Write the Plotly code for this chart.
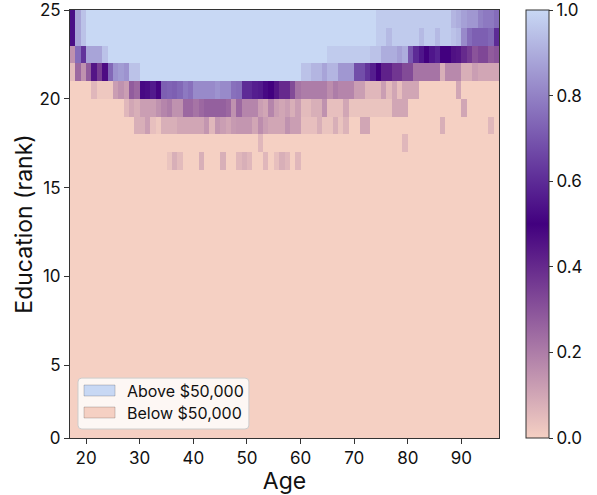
import plotly.graph_objects as go

# ---------------- data ----------------
ages = list(range(17, 97))            # age columns (each cell spans age .. age+1)
education_ranks = list(range(0, 25))  # education rows (each cell spans rank .. rank+1)

# share of people above $50,000 for each age, per education rank
edu_24 = [
    0.53, 0.88, 0.95,
    1, 1, 1, 1, 1, 1, 1, 1, 1, 1,
    1, 1, 1, 1, 1, 1, 1, 1, 1, 1,
    1, 1, 1, 1, 1, 1, 1, 1, 1, 1,
    1, 1, 1, 1, 1, 1, 1, 1, 1, 1,
    1, 1, 1, 1, 1, 1, 1, 1, 1, 1,
    1, 1, 1, 1, 0.97, 0.97, 0.97, 0.97, 0.97, 0.97,
    0.97, 0.97, 0.97, 0.97, 0.97, 0.97, 0.97, 0.97, 0.92, 0.90,
    0.87, 0.85, 0.85, 0.80, 0.78, 0.78, 0.75,
]
edu_23 = [
    0.53, 0.88, 0.95,
    1, 1, 1, 1, 1, 1, 1, 1, 1, 1,
    1, 1, 1, 1, 1, 1, 1, 1, 1, 1,
    1, 1, 1, 1, 1, 1, 1, 1, 1, 1,
    1, 1, 1, 1, 1, 1, 1, 1, 1, 1,
    1, 1, 1, 1, 1, 1, 1, 1, 1, 1,
    1, 1, 1, 1, 0.97, 0.97, 0.93, 0.97, 0.97, 0.97,
    0.97, 0.97, 0.93, 0.97, 0.97, 0.93, 0.97, 0.97, 0.95, 0.93,
    0.82, 0.75, 0.72, 0.72, 0.72, 0.74, 0.60,
]
edu_22 = [
    0.15, 0.75, 0.62,
    0.88, 0.88, 0.88, 0.95, 1, 1, 1, 1, 1, 1,
    1, 1, 1, 1, 1, 1, 1, 1, 1, 1,
    1, 1, 1, 1, 1, 1, 1, 1, 1, 1,
    1, 1, 1, 1, 1, 1, 1, 1, 1, 1,
    1, 1, 1, 1, 1, 0.97, 0.97, 0.97, 0.97, 0.97,
    0.97, 0.97, 0.97, 0.95, 0.95, 0.90, 0.90, 0.90, 0.87, 0.90,
    0.70, 0.60, 0.55, 0.50, 0.55, 0.58, 0.50, 0.50, 0.46, 0.45,
    0.40, 0.36, 0.30, 0.33, 0.33, 0.28, 0.30,
]
edu_21 = [
    0.05, 0.25, 0.15,
    0.28, 0.45, 0.35, 0.47, 0.74, 0.84, 0.86, 0.84, 0.95, 0.95,
    1, 1, 1, 1, 1, 1, 1, 1, 1, 1,
    1, 1, 1, 1, 1, 1, 1, 1, 1, 1,
    1, 1, 1, 1, 1, 1, 1, 1, 1, 1,
    0.95, 0.95, 0.92, 0.92, 0.88, 0.92, 0.92, 0.85, 0.85, 0.85,
    0.68, 0.68, 0.62, 0.57, 0.50, 0.42, 0.42, 0.37, 0.37, 0.32,
    0.32, 0.22, 0.22, 0.22, 0.22, 0.22, 0.08, 0.17, 0.17, 0.17,
    0.08, 0.08, 0.12, 0.10, 0.10, 0.10, 0.10,
]
edu_20 = [
    0, 0, 0,
    0, 0.06, 0.02, 0.02, 0.02, 0.12, 0.15, 0.12, 0.28, 0.25,
    0.52, 0.53, 0.56, 0.51, 0.72, 0.73, 0.72, 0.74, 0.78, 0.76,
    0.82, 0.82, 0.82, 0.82, 0.84, 0.82, 0.82, 0.76, 0.75, 0.60,
    0.60, 0.57, 0.56, 0.52, 0.50, 0.45, 0.40, 0.40, 0.32, 0.22,
    0.20, 0.20, 0.20, 0.20, 0.20, 0.16, 0.20, 0.18, 0.18, 0.18,
    0.12, 0.12, 0.06, 0.06, 0.06, 0.12, 0.05, 0.10, 0.04, 0.10,
    0.10, 0.10, 0, 0, 0, 0, 0, 0, 0, 0.10,
    0, 0, 0, 0, 0, 0, 0,
]
edu_19 = [
    0, 0, 0,
    0, 0, 0, 0, 0, 0, 0, 0.06, 0.10, 0.08,
    0.12, 0.12, 0.12, 0.15, 0.18, 0.20, 0.15, 0.15, 0.25, 0.25,
    0.22, 0.25, 0.27, 0.27, 0.27, 0.27, 0.25, 0.15, 0.25, 0.18,
    0.18, 0.18, 0.12, 0.10, 0.18, 0.12, 0.10, 0.12, 0.08, 0.12,
    0.05, 0.05, 0.08, 0.08, 0.15, 0.04, 0.04, 0.04, 0.10, 0.03,
    0.03, 0.03, 0.03, 0.03, 0.03, 0.03, 0.03, 0.10, 0.10, 0.10,
    0, 0, 0, 0, 0, 0, 0, 0, 0, 0,
    0.10, 0, 0, 0, 0, 0, 0,
]
edu_18 = [
    0, 0, 0,
    0, 0, 0, 0, 0, 0, 0, 0, 0, 0.08,
    0.08, 0.12, 0.04, 0.02, 0.08, 0.08, 0.08, 0.10, 0.10, 0.10,
    0.10, 0.10, 0.14, 0.06, 0.14, 0.12, 0.10, 0.13, 0.14, 0.14,
    0.14, 0.10, 0.16, 0.12, 0.10, 0.10, 0.10, 0.15, 0.12, 0.12,
    0.04, 0.04, 0.04, 0.08, 0.03, 0.03, 0.08, 0.03, 0.07, 0,
    0, 0.10, 0.10, 0, 0, 0, 0, 0, 0, 0,
    0, 0, 0, 0, 0, 0, 0.08, 0, 0, 0,
    0, 0, 0, 0, 0, 0.06, 0,
]
edu_17 = [
    0, 0, 0,
    0, 0, 0, 0, 0, 0, 0, 0, 0, 0,
    0, 0, 0, 0, 0, 0, 0, 0, 0, 0,
    0, 0, 0, 0, 0, 0, 0, 0, 0, 0,
    0, 0, 0.06, 0, 0, 0, 0, 0, 0, 0,
    0, 0, 0, 0, 0, 0, 0, 0, 0, 0,
    0, 0, 0, 0, 0, 0, 0, 0, 0, 0.06,
    0, 0, 0, 0, 0, 0, 0, 0, 0, 0,
    0, 0, 0, 0, 0, 0, 0,
]
edu_16 = [
    0, 0, 0,
    0, 0, 0, 0, 0, 0, 0, 0, 0, 0,
    0, 0, 0, 0, 0, 0.03, 0.08, 0.05, 0, 0,
    0, 0.08, 0, 0, 0, 0.08, 0, 0, 0.06, 0.08,
    0.06, 0, 0, 0.06, 0, 0.04, 0.08, 0.06, 0, 0.06,
    0, 0, 0, 0, 0, 0, 0, 0, 0, 0,
    0, 0, 0, 0, 0, 0, 0, 0, 0, 0,
    0, 0, 0, 0, 0, 0, 0, 0, 0, 0,
    0, 0, 0, 0, 0, 0, 0,
]
low_rank_row = [0.0] * len(ages)   # ranks 0..15: everyone below $50,000

rows_by_rank = {16: edu_16, 17: edu_17, 18: edu_18, 19: edu_19, 20: edu_20,
                21: edu_21, 22: edu_22, 23: edu_23, 24: edu_24}

legend_labels = ["Above $50,000", "Below $50,000"]
x_tick_values = [20, 30, 40, 50, 60, 70, 80, 90]
y_tick_labels = ["0", "5", "10", "15", "20", "25"]
cbar_tick_values = [0.0, 0.2, 0.4, 0.6, 0.8, 1.0]

for r, row in rows_by_rank.items():
    assert len(row) == len(ages), (r, len(row))

# ---------------- styling ----------------
COL_LOW = "#f5d0c3"
COL_MID = "#42007f"
COL_HIGH = "#c8d8f4"
colorscale = [[0.0, COL_LOW], [0.5, COL_MID], [1.0, COL_HIGH]]
FONT = "Inter, Roboto, 'DejaVu Sans', sans-serif"
INK = "#333333"
TXT = "#111111"

z = [rows_by_rank.get(r, low_rank_row) for r in education_ranks]
x_edges = ages + [ages[-1] + 1]
y_edges = education_ranks + [education_ranks[-1] + 1]

y_bottom = 0.9
y_tick_values = [y_bottom, 5, 10, 15, 20, 25]

fig = go.Figure()
fig.add_trace(go.Heatmap(
    x=x_edges, y=y_edges, z=z,
    zmin=0, zmax=1, colorscale=colorscale, zsmooth=False,
    hovertemplate="Age %{x}<br>Education %{y}<br>%{z:.2f}<extra></extra>",
    colorbar=dict(
        thickness=23, thicknessmode="pixels",
        len=1, lenmode="fraction",
        x=1.063, xanchor="left", xpad=0,
        y=0.5, yanchor="middle", ypad=0,
        outlinewidth=1, outlinecolor=INK,
        ticks="outside", ticklen=4, tickwidth=1, tickcolor=INK,
        tickvals=cbar_tick_values, tickformat=".1f",
        ticklabeloverflow="allow",
        tickfont=dict(family=FONT, size=17, color=TXT),
    ),
))

# ---- legend drawn as layout decoration (matplotlib-like rounded box) ----
def rounded_rect(x0, y0, x1, y1, r):
    return (f"M {x0+r},{y0} L {x1-r},{y0} Q {x1},{y0} {x1},{y0+r} "
            f"L {x1},{y1-r} Q {x1},{y1} {x1-r},{y1} L {x0+r},{y1} "
            f"Q {x0},{y1} {x0},{y1-r} L {x0},{y0+r} Q {x0},{y0} {x0+r},{y0} Z")

shapes = [dict(type="path", xref="paper", yref="paper",
               path=rounded_rect(0.0186, 0.021, 0.417, 0.140, 0.009),
               fillcolor="rgba(255,255,255,0.82)",
               line=dict(color="#cccccc", width=1), layer="above")]
patch_colors = [COL_HIGH, COL_LOW]
patch_y = [(0.0981, 0.1238), (0.0467, 0.0724)]
annotations = []
for label, col, (py0, py1) in zip(legend_labels, patch_colors, patch_y):
    shapes.append(dict(type="rect", xref="paper", yref="paper",
                       x0=0.0326, x1=0.105, y0=py0, y1=py1,
                       fillcolor=col, line=dict(color="rgba(0,0,0,0.18)", width=1),
                       layer="above"))
    annotations.append(dict(xref="paper", yref="paper", x=0.129, y=(py0 + py1) / 2,
                            text=label, showarrow=False, xanchor="left", yanchor="middle",
                            font=dict(family=FONT, size=16, color=TXT)))

axis_common = dict(showline=True, linecolor=INK, linewidth=1, mirror=True,
                   ticks="outside", ticklen=5, tickwidth=1, tickcolor=INK,
                   showgrid=False, zeroline=False, automargin=False,
                   ticklabeloverflow="allow",
                   tickfont=dict(family=FONT, size=17, color=TXT))

fig.update_layout(
    width=597, height=495,
    margin=dict(l=70, r=98, t=10, b=57, autoexpand=False),
    paper_bgcolor="white", plot_bgcolor="white",
    font=dict(family=FONT, color=TXT),
    xaxis=dict(range=[17, 97], tickvals=x_tick_values,
               title=dict(text="Age", font=dict(family=FONT, size=23, color=TXT), standoff=4),
               **axis_common),
    yaxis=dict(range=[y_bottom, 25], tickvals=y_tick_values, ticktext=y_tick_labels,
               title=dict(text="Education (rank)", font=dict(family=FONT, size=23, color=TXT),
                          standoff=0),
               **axis_common),
    shapes=shapes, annotations=annotations,
    showlegend=False,
)

# remove the browser's default 8px page margin so the figure fills the window exactly
fig.write_html("out.html", config={"displayModeBar": False},
               post_script="document.body.style.margin='0px';")
